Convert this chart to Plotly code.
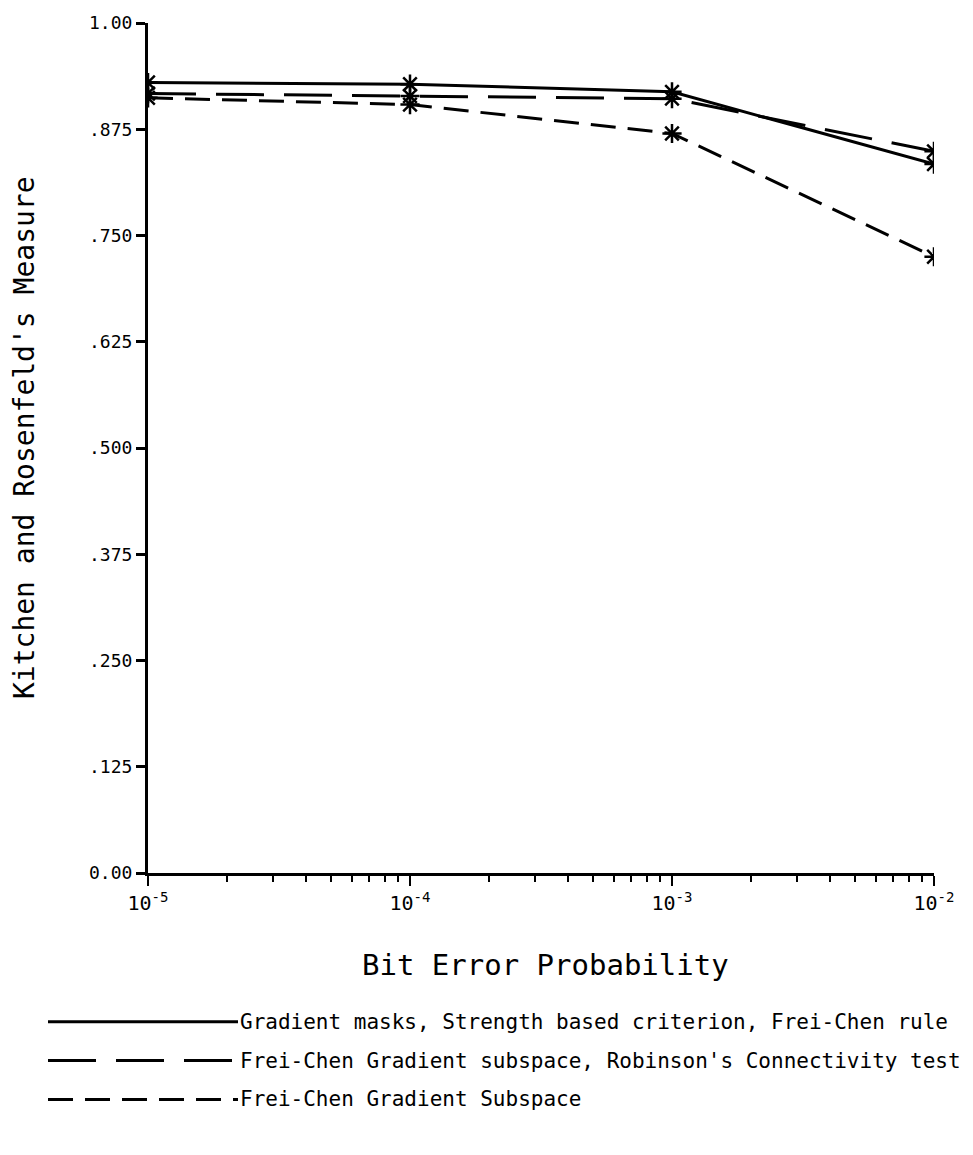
import plotly.graph_objects as go

# Data
bit_error = [1e-5, 1e-4, 1e-3, 1e-2]
solid_vals = [0.930, 0.928, 0.919, 0.834]        # Gradient masks, Strength based criterion, Frei-Chen rule
robinson_vals = [0.917, 0.914, 0.911, 0.849]     # Frei-Chen Gradient subspace, Robinson's Connectivity test
subspace_vals = [0.912, 0.904, 0.870, 0.725]     # Frei-Chen Gradient Subspace

series_names = [
    "Gradient masks, Strength based criterion, Frei-Chen rule",
    "Frei-Chen Gradient subspace, Robinson's Connectivity test",
    "Frei-Chen Gradient Subspace",
]
y_tickvals = [0, 0.125, 0.25, 0.375, 0.5, 0.625, 0.75, 0.875, 1.0]
y_ticktext = ["0.00", ".125", ".250", ".375", ".500", ".625", ".750", ".875", "1.00"]
x_tickvals = [1e-5, 1e-4, 1e-3, 1e-2]
x_ticktext = ["10<sup>-5</sup>", "10<sup>-4</sup>", "10<sup>-3</sup>", "10<sup>-2</sup>"]

FONT = "DejaVu Sans Mono"
dashes = ["solid", "48px,20px", "25px,12px"]
values = [solid_vals, robinson_vals, subspace_vals]

fig = go.Figure()
for name, vals, dash in zip(series_names, values, dashes):
    fig.add_trace(go.Scatter(
        x=bit_error, y=vals, name=name, mode="lines+markers",
        line=dict(color="black", width=3, dash=dash),
        marker=dict(symbol="asterisk-open", size=16, color="black",
                    line=dict(color="black", width=2.5)),
        showlegend=False,
    ))

W, H = 973, 1155
L, R, T, B = 148, 39, 21, 282
pw, ph = W - L - R, H - T - B

def px(x):
    return (x - L) / pw

def py(y):
    return (H - B - y) / ph

minor_vals = [m * 10.0 ** e for e in (-5, -4, -3) for m in range(2, 10)]

fig.update_layout(
    width=W, height=H,
    margin=dict(l=L, r=R, t=T, b=B),
    paper_bgcolor="white", plot_bgcolor="white",
    font=dict(family=FONT, color="black"),
    xaxis=dict(
        type="log", range=[-5, -2],
        tickvals=x_tickvals, ticktext=x_ticktext,
        ticks="outside", ticklen=10, tickwidth=2, tickcolor="black",
        showline=True, linewidth=3, linecolor="black",
        showgrid=False, zeroline=False,
        tickfont=dict(size=20, family=FONT),
        minor=dict(tickvals=minor_vals, ticks="outside", ticklen=6,
                   tickwidth=2, tickcolor="black", showgrid=False),
    ),
    yaxis=dict(
        range=[0, 1.0],
        tickvals=y_tickvals, ticktext=y_ticktext,
        ticks="outside", ticklen=9, tickwidth=2.5, tickcolor="black",
        showline=True, linewidth=3, linecolor="black",
        showgrid=False, zeroline=False,
        tickfont=dict(size=18, family=FONT),
    ),
)

annotations = [
    dict(text="Kitchen and Rosenfeld's Measure", textangle=-90,
         xref="paper", yref="paper", x=px(24), y=py(437),
         xanchor="center", yanchor="middle", showarrow=False,
         font=dict(size=28, family=FONT)),
    dict(text="Bit Error Probability",
         xref="paper", yref="paper", x=px(545), y=py(965),
         xanchor="center", yanchor="middle", showarrow=False,
         font=dict(size=29, family=FONT)),
]
shapes = []
legend_rows = [1022, 1061, 1100]
for name, dash, ry in zip(series_names, dashes, legend_rows):
    shapes.append(dict(type="line", xref="paper", yref="paper",
                       x0=px(48), x1=px(238), y0=py(ry), y1=py(ry),
                       line=dict(color="black", width=3, dash=dash)))
    annotations.append(dict(text=name, xref="paper", yref="paper",
                            x=px(238), y=py(ry), xanchor="left", yanchor="middle",
                            showarrow=False, font=dict(size=21, family=FONT)))

fig.update_layout(annotations=annotations, shapes=shapes)
fig.write_html("out.html")
